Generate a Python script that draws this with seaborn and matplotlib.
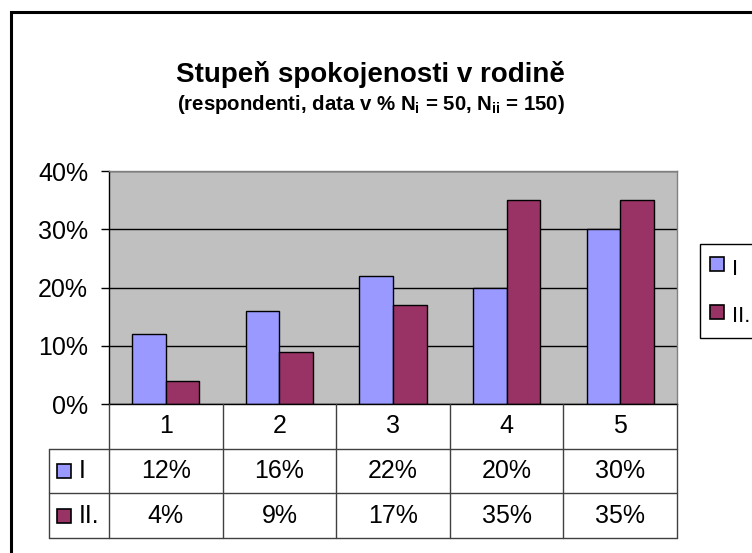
import matplotlib
matplotlib.use('Agg')
import matplotlib.pyplot as plt
import seaborn as sns
import pandas as pd
from matplotlib.patches import Rectangle
from matplotlib.lines import Line2D
from matplotlib.ticker import PercentFormatter

# data
categories = ['1', '2', '3', '4', '5']
series_names = ['I', 'II.']
values_i = [12, 16, 22, 20, 30]
values_ii = [4, 9, 17, 35, 35]
y_ticks = [0, 10, 20, 30, 40]
colors = ['#9999FF', '#993366']

df = pd.DataFrame({
    'kategorie': categories * 2,
    'skupina': [series_names[0]] * len(values_i) + [series_names[1]] * len(values_ii),
    'hodnota': values_i + values_ii,
})

sns.set_theme(style='white')
plt.rcParams['font.family'] = ['Liberation Sans', 'DejaVu Sans']
plt.rcParams['text.color'] = 'black'
plt.rcParams['ytick.labelcolor'] = 'black'
plt.rcParams['mathtext.fontset'] = 'custom'
plt.rcParams['mathtext.rm'] = 'Liberation Sans'
plt.rcParams['mathtext.bf'] = 'Liberation Sans:bold'

W, H = 752, 553
fs = 18
fig = plt.figure(figsize=(W / 100, H / 100), dpi=100)

# plot area
ax = fig.add_axes([109 / W, 1 - 404 / H, 568 / W, 233 / H])
sns.barplot(data=df, x='kategorie', y='hodnota', hue='skupina', palette=colors,
            width=0.59, gap=0, edgecolor='black', linewidth=1, saturation=1,
            ax=ax, legend=False)
ax.set_facecolor('#C0C0C0')
ax.set_xlim(-0.5, len(categories) - 0.5)
ax.set_ylim(0, 40)
ax.set_yticks(y_ticks)
ax.yaxis.set_major_formatter(PercentFormatter(decimals=0))
ax.yaxis.grid(True, color='black', lw=1)
ax.xaxis.grid(False)
ax.set_axisbelow(True)
ax.tick_params(axis='y', left=True, length=6, width=1, color='black', labelsize=fs, pad=9)
ax.tick_params(axis='x', bottom=False, labelbottom=False)
ax.set_xlabel('')
ax.set_ylabel('')
for s in ['left', 'bottom']:
    ax.spines[s].set_color('black')
    ax.spines[s].set_linewidth(1)
for s in ['top', 'right']:
    ax.spines[s].set_color('#808080')
    ax.spines[s].set_linewidth(1)

# data table under the plot
unit = 568 / len(categories)
x0 = -0.5 - (109 - 49) / unit
ax_t = fig.add_axes([49 / W, 1 - 538 / H, 628 / W, 134 / H])
ax_t.set_xlim(x0, len(categories) - 0.5)
ax_t.set_ylim(3, 0)
ax_t.axis('off')
lc = '#404040'
for k in range(len(categories) + 1):
    ax_t.plot([k - 0.5, k - 0.5], [0, 3], color=lc, lw=1, clip_on=False)
ax_t.plot([x0, x0], [1, 3], color=lc, lw=1, clip_on=False)
for r in [1, 2, 3]:
    ax_t.plot([x0, len(categories) - 0.5], [r, r], color=lc, lw=1, clip_on=False)

for i, c in enumerate(categories):
    ax_t.text(i, 0.5, c, ha='center', va='center', fontsize=fs)
for r, (name, vals, col) in enumerate(zip(series_names, [values_i, values_ii], colors)):
    for i, v in enumerate(vals):
        ax_t.text(i, r + 1.5, f'{v}%', ha='center', va='center', fontsize=fs)
    sq_w = 14 / unit
    sq_h = 14 / (134 / 3)
    ax_t.add_patch(Rectangle((x0 + 8 / unit, r + 1.5 - sq_h / 2), sq_w, sq_h,
                             facecolor=col, edgecolor='black', lw=1.2, clip_on=False))
    ax_t.text(x0 + 30 / unit, r + 1.5, name, ha='left', va='center', fontsize=fs)

# titles
fig.text(370 / W, 1 - 75 / H, 'Stupeň spokojenosti v rodině', ha='center', va='center',
         fontsize=20, fontweight='bold', color='black')
fig.text(371 / W, 1 - 105 / H,
         r'(respondenti, data v % $\mathbf{N_i}$ = 50, $\mathbf{N_{ii}}$ = 150)',
         ha='center', va='center', fontsize=14.7, fontweight='bold', color='black')

# legend
handles = [Line2D([], [], ls='none', marker='s', markersize=10.5, markerfacecolor=c,
                  markeredgecolor='black', markeredgewidth=1.2) for c in colors]
leg = fig.legend(handles=handles, labels=series_names, loc='upper left',
                 bbox_to_anchor=(700 / W, 1 - 244 / H), frameon=True, fancybox=False,
                 edgecolor='black', framealpha=1, fontsize=16, handlelength=0.6,
                 handleheight=1.5, labelspacing=0.9, borderpad=0.45, handletextpad=0.4,
                 borderaxespad=0)
leg.get_frame().set_linewidth(1)

# outer chart border
fig.add_artist(Rectangle((11 / W, -0.1), 1.2, 1 - 12 / H + 0.1, transform=fig.transFigure,
                         fill=False, edgecolor='black', lw=2.2))

fig.savefig('out.png', dpi=100)
